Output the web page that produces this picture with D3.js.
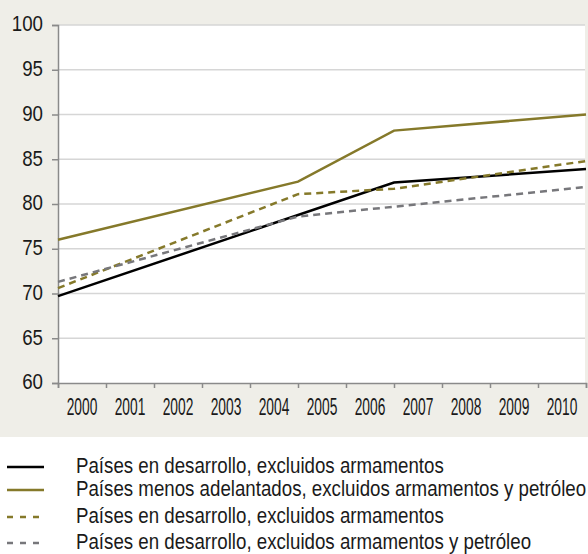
<!DOCTYPE html>
<html>
<head>
<meta charset="utf-8">
<script src="https://cdn.jsdelivr.net/npm/d3@7"></script>
<style>
body { margin: 0; background: #fff; }
svg { display: block; }
</style>
</head>
<body>
<svg width="588" height="554"></svg>
<script>
var yearLabels = ["2000", "2001", "2002", "2003", "2004", "2005", "2006", "2007", "2008", "2009", "2010"];
var yTickValues = [60, 65, 70, 75, 80, 85, 90, 95, 100];

// vertices of each line (year = start of that year's slot, 2011 = end of 2010)
var blackYears = [2000, 2007, 2011];
var blackValues = [69.7, 82.4, 83.9];
var oliveYears = [2000, 2005, 2007, 2011];
var oliveValues = [76.0, 82.5, 88.2, 90.0];
var oliveDashYears = [2000, 2005, 2007, 2011];
var oliveDashValues = [70.6, 81.1, 81.7, 84.8];
var greyDashYears = [2000, 2005, 2011];
var greyDashValues = [71.3, 78.6, 81.9];

var legendLabels = [
    "Países en desarrollo, excluidos armamentos",
    "Países menos adelantados, excluidos armamentos y petróleo",
    "Países en desarrollo, excluidos armamentos",
    "Países en desarrollo, excluidos armamentos y petróleo"
];

var series = [
    { years: blackYears, values: blackValues, color: "#000000", dash: null },
    { years: oliveYears, values: oliveValues, color: "#85792a", dash: null },
    { years: oliveDashYears, values: oliveDashValues, color: "#85792a", dash: "7,5" },
    { years: greyDashYears, values: greyDashValues, color: "#77777b", dash: "7,5" }
];

var width = 588, height = 554;
var margin = { top: 25, right: 2, bottom: 171, left: 58 };
var plotBottom = height - margin.bottom;
var plotRight = width - margin.right;
var fontFamily = "'Liberation Sans', Arial, sans-serif";

var svg = d3.select("svg");

// panel background
svg.append("rect")
    .attr("x", 0).attr("y", 0)
    .attr("width", width).attr("height", 437)
    .attr("fill", "#efeee8");

svg.append("rect")
    .attr("x", margin.left).attr("y", margin.top)
    .attr("width", plotRight - margin.left - 1).attr("height", plotBottom - margin.top)
    .attr("fill", "#ffffff");

var x = d3.scaleLinear().domain([2000, 2011]).range([margin.left, plotRight]);
var y = d3.scaleLinear().domain([60, 100]).range([plotBottom, margin.top]);

// grid
svg.append("g")
    .selectAll("line")
    .data(yTickValues.slice(1))
    .enter()
        .append("line")
        .attr("x1", margin.left).attr("x2", plotRight - 1)
        .attr("y1", function(d) { return y(d); })
        .attr("y2", function(d) { return y(d); })
        .attr("stroke", "#d6d6d6")
        .attr("stroke-width", 1.5);

// Y axis (condensed labels)
var yAxis = d3.axisLeft(y).tickValues(yTickValues).tickSize(6).tickPadding(9);
var yg = svg.append("g")
    .attr("transform", "translate(" + margin.left + ",0)")
    .call(yAxis);
yg.select(".domain").attr("stroke", "#8a8a8a").attr("stroke-width", 1.5);
yg.selectAll(".tick line").attr("stroke", "#8a8a8a").attr("stroke-width", 1.5);
yg.selectAll(".tick text")
    .attr("fill", "#1a1a1a")
    .attr("x", -15 / 0.85)
    .attr("dy", "0.27em")
    .attr("transform", "scale(0.85,1)")
    .style("font-family", fontFamily)
    .style("font-size", "22px");

// X axis: ticks at slot edges, labels centred in slots
var xAxis = d3.axisBottom(x).tickValues(d3.range(2000, 2012)).tickSize(5).tickFormat("");
var xg = svg.append("g")
    .attr("transform", "translate(0," + plotBottom + ")")
    .call(xAxis);
xg.select(".domain").attr("stroke", "#8a8a8a").attr("stroke-width", 1.5);
xg.selectAll(".tick line").attr("stroke", "#8a8a8a").attr("stroke-width", 1.5);

svg.append("g")
    .selectAll("text")
    .data(yearLabels)
    .enter()
        .append("text")
        .attr("transform", function(d) {
            return "translate(" + x(+d + 0.5) + "," + (plotBottom + 32) + ") scale(0.6,1)";
        })
        .attr("text-anchor", "middle")
        .attr("fill", "#1a1a1a")
        .style("font-family", fontFamily)
        .style("font-size", "23px")
        .text(function(d) { return d; });

// Lines
var line = d3.line()
    .x(function(d) { return x(d[0]); })
    .y(function(d) { return y(d[1]); });

svg.append("g")
    .selectAll("path")
    .data(series)
    .enter()
        .append("path")
        .attr("d", function(s) { return line(d3.zip(s.years, s.values)); })
        .attr("fill", "none")
        .attr("stroke", function(s) { return s.color; })
        .attr("stroke-width", 2.5)
        .attr("stroke-dasharray", function(s) { return s.dash; });

// Legend
var legendY = [467, 490, 517, 543];
var legend = svg.append("g")
    .selectAll("g")
    .data(series)
    .enter()
        .append("g")
        .attr("transform", function(d, i) { return "translate(0," + legendY[i] + ")"; });

legend.append("line")
    .attr("x1", 7).attr("x2", 44)
    .attr("stroke", function(s) { return s.color; })
    .attr("stroke-width", 2.5)
    .attr("stroke-dasharray", function(s) { return s.dash ? "6,7" : null; });

legend.append("text")
    .attr("transform", "translate(76,6) scale(0.85,1)")
    .attr("fill", "#1a1a1a")
    .style("font-family", fontFamily)
    .style("font-size", "22px")
    .text(function(d, i) { return legendLabels[i]; });
</script>
</body>
</html>
